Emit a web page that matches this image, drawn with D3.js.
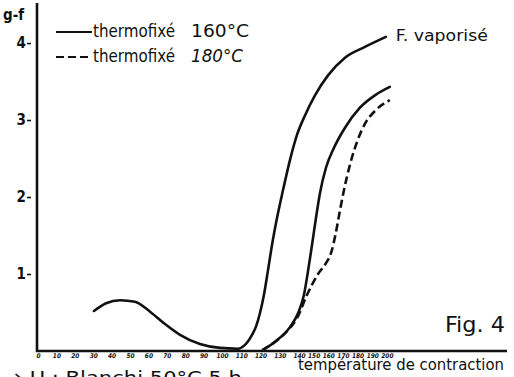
<!DOCTYPE html>
<html>
<head>
<meta charset="utf-8">
<script src="https://cdn.jsdelivr.net/npm/d3@7"></script>
<style>
  html, body { margin: 0; padding: 0; background: #fff; }
  svg { display: block; }
  text { font-family: "DejaVu Sans Condensed", "DejaVu Sans", sans-serif; fill: #111; }
</style>
</head>
<body>
<div id="chart"></div>
<script>
// temperature (°C) / force (g-f)
const vaporise = [
  [30.4, 0.52], [37, 0.62], [44.6, 0.66], [52.7, 0.64], [60.9, 0.51], [69, 0.35],
  [77.2, 0.21], [88, 0.09], [98.9, 0.04], [108.3, 0.03], [111.5, 0.07], [115.6, 0.21],
  [117.7, 0.32], [119.7, 0.49], [121.8, 0.73], [123.9, 1.05], [126.0, 1.38], [128.6, 1.73],
  [131.7, 2.09], [135.3, 2.48], [139.0, 2.81], [144.1, 3.06], [150.9, 3.32], [159.8, 3.58],
  [171.4, 3.81], [185.0, 3.95], [199.3, 4.08]
];
const thermo160 = [
  [122.3, 0.03], [128.6, 0.14], [135.3, 0.31], [139.5, 0.49], [143.4, 0.73], [146.1, 1.03],
  [148.9, 1.38], [151.6, 1.73], [154.3, 2.05], [158.4, 2.38], [163.9, 2.64], [171.4, 2.90],
  [181.6, 3.16], [191.8, 3.32], [202.0, 3.43]
];
const thermo180 = [
  [120.8, 0.01], [128.6, 0.14], [134.3, 0.27], [139.0, 0.43], [145.5, 0.73], [153.0, 1.00],
  [158.4, 1.14], [162.0, 1.28], [165.0, 1.52], [168.0, 1.83], [170.7, 2.09], [174.8, 2.42],
  [179.5, 2.71], [185.0, 2.95], [192.5, 3.13], [202.0, 3.26]
];

const xTicks = d3.range(0, 201, 10);
const yTicks = [1, 2, 3, 4];
const legendNames = ['thermofixé', 'thermofixé'];
const legendTemps = ['160°C', '180°C'];

const width = 514, height = 377;

const svg = d3.select('#chart').append('svg')
    .attr('width', width)
    .attr('height', height);

svg.append('rect').attr('width', width).attr('height', height).attr('fill', '#fff');

// the hand-drawn axis is not evenly spaced, so the scale is piecewise
const x = d3.scaleLinear().domain([0, 100, 140, 282]).range([38, 222, 299, 507]);
const y = d3.scaleLinear().domain([0, 4.52]).range([351, 3]);

// axes
svg.append('line')
    .attr('x1', x(0) - 1).attr('x2', x(0) - 1)
    .attr('y1', y(0) + 1).attr('y2', y(4.52))
    .attr('stroke', '#111').attr('stroke-width', 2.6);
svg.append('line')
    .attr('x1', x(0) - 2).attr('x2', x(282))
    .attr('y1', y(0)).attr('y2', y(0))
    .attr('stroke', '#111').attr('stroke-width', 2.4);

const gy = svg.append('g')
    .attr('transform', 'translate(' + (x(0) - 7) + ',0)')
    .call(d3.axisLeft(y).tickValues(yTicks).tickSize(4).tickPadding(1).tickFormat(d3.format('d')));
gy.select('.domain').remove();
gy.selectAll('line').attr('stroke', '#111').attr('stroke-width', 1.6);
gy.selectAll('text')
    .attr('font-size', 15).attr('font-weight', 'bold')
    .attr('fill', '#111').style('font-family', '"DejaVu Sans Condensed", sans-serif');

const gx = svg.append('g')
    .attr('transform', 'translate(0,' + y(0) + ')')
    .call(d3.axisBottom(x).tickValues(xTicks).tickSize(0).tickPadding(2));
gx.select('.domain').remove();
gx.selectAll('text')
    .attr('font-size', 6.5).attr('font-weight', 'bold').attr('font-style', 'italic')
    .attr('fill', '#111').style('font-family', '"DejaVu Sans Condensed", sans-serif');

svg.append('text')
    .attr('x', 3).attr('y', 20)
    .attr('font-size', 15).attr('font-weight', 'bold')
    .text('g-f');

// curves
const line = d3.line()
    .x(d => x(d[0]))
    .y(d => y(d[1]))
    .curve(d3.curveMonotoneX);

svg.append('path').datum(vaporise)
    .attr('d', line).attr('fill', 'none')
    .attr('stroke', '#111').attr('stroke-width', 2.6).attr('stroke-linecap', 'round');
svg.append('path').datum(thermo160)
    .attr('d', line).attr('fill', 'none')
    .attr('stroke', '#111').attr('stroke-width', 2.6).attr('stroke-linecap', 'round');
svg.append('path').datum(thermo180)
    .attr('d', line).attr('fill', 'none')
    .attr('stroke', '#111').attr('stroke-width', 2.6)
    .attr('stroke-dasharray', '8,4');

// legend
const legend = svg.append('g');
legendNames.forEach((name, i) => {
    const ly = 32 + i * 25;
    legend.append('line')
        .attr('x1', 56).attr('x2', 92).attr('y1', ly).attr('y2', ly)
        .attr('stroke', '#111').attr('stroke-width', 2.2)
        .attr('stroke-dasharray', i === 1 ? '8,4' : null);
    legend.append('text')
        .attr('x', 93).attr('y', ly + 5)
        .attr('font-size', 18)
        .attr('textLength', 82).attr('lengthAdjust', 'spacingAndGlyphs')
        .text(name);
    legend.append('text')
        .attr('x', 191).attr('y', ly + 5)
        .attr('font-size', 17)
        .attr('font-style', i === 1 ? 'italic' : null)
        .attr('textLength', i === 1 ? 52 : 58).attr('lengthAdjust', 'spacingAndGlyphs')
        .text(legendTemps[i]);
});

// annotations
const last = vaporise[vaporise.length - 1];
svg.append('text')
    .attr('x', x(last[0]) + 10).attr('y', y(last[1]) + 4)
    .attr('font-size', 15)
    .attr('textLength', 92).attr('lengthAdjust', 'spacingAndGlyphs')
    .text('F. vaporisé');

svg.append('text')
    .attr('x', 445).attr('y', 332)
    .attr('font-size', 22)
    .attr('textLength', 60).attr('lengthAdjust', 'spacingAndGlyphs')
    .text('Fig.  4');

svg.append('text')
    .attr('x', 298).attr('y', 370)
    .attr('font-size', 15.5)
    .attr('textLength', 206).attr('lengthAdjust', 'spacingAndGlyphs')
    .text('température de contraction');

// cut-off caption line at the bottom of the scan
svg.append('text')
    .attr('x', 12).attr('y', 384)
    .attr('font-size', 18)
    .attr('textLength', 230).attr('lengthAdjust', 'spacingAndGlyphs')
    .text('↘U : Blanchi  50°C   5 h');
</script>
</body>
</html>
